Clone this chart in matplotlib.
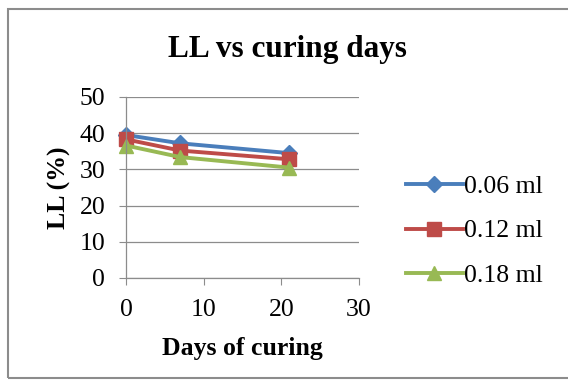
import matplotlib
matplotlib.use("Agg")
import matplotlib.pyplot as plt
from matplotlib.patches import Rectangle

days = [0, 7, 21]
ll_006 = [39.5, 37.2, 34.5]
ll_012 = [38.3, 35.2, 32.8]
ll_018 = [36.6, 33.4, 30.5]
series_labels = ["0.06 ml", "0.12 ml", "0.18 ml"]
y_ticks = [0, 10, 20, 30, 40, 50]
x_ticks = [0, 10, 20, 30]

plt.rcParams['font.family'] = ['Liberation Serif', 'DejaVu Serif']

W, H = 568, 389
fig = plt.figure(figsize=(W / 100, H / 100), dpi=100)
fig.patch.set_facecolor('white')

# outer chart frame (right edge falls outside the picture)
fig.patches.append(Rectangle((8 / W, 11 / H), 1.05 - 8 / W, (380 - 11) / H,
                             transform=fig.transFigure, fill=False,
                             edgecolor='#8c8c8c', linewidth=1.5))

ax = fig.add_axes([126 / W, 1 - 278 / H, (359 - 126) / W, (278 - 97) / H])
colors = ['#4A7EBB', '#BE4B48', '#98B954']
markers = ['D', 's', '^']
msizes = [8, 10, 10]
for vals, lab, c, m, ms in zip([ll_006, ll_012, ll_018], series_labels, colors, markers, msizes):
    ax.plot(days, vals, color=c, marker=m, markersize=ms, linewidth=2.8, label=lab)

ax.set_xlim(0, 30)
ax.set_ylim(0, 50)
ax.set_xticks(x_ticks)
ax.set_yticks(y_ticks)
ax.yaxis.grid(True, color='#8c8c8c', linewidth=0.9)
ax.set_axisbelow(True)
for s in ['top', 'right']:
    ax.spines[s].set_visible(False)
for s in ['left', 'bottom']:
    ax.spines[s].set_color('#8c8c8c')
    ax.spines[s].set_linewidth(0.9)
ax.tick_params(axis='x', direction='out', length=5, color='#8c8c8c', labelsize=18.5, pad=10)
ax.tick_params(axis='y', length=5, direction='out', color='#8c8c8c', labelsize=18.5, pad=10)
for line in ax.lines:
    line.set_clip_on(False)

ax.set_xlabel('Days of curing', fontsize=18.5, fontweight='bold', labelpad=12)
ax.set_ylabel('LL (%)', fontsize=18.5, fontweight='bold', labelpad=6)
fig.text(287 / W, 1 - 50 / H, 'LL vs curing days', fontsize=22.5, fontweight='bold',
         ha='center', va='center')

leg = fig.legend(loc='center left', bbox_to_anchor=(406 / W, 1 - 231 / H),
                 frameon=False, fontsize=18.5, handlelength=2.2, handletextpad=0.05,
                 labelspacing=0.85, borderpad=0, borderaxespad=0)

fig.savefig('out.png', dpi=100)
